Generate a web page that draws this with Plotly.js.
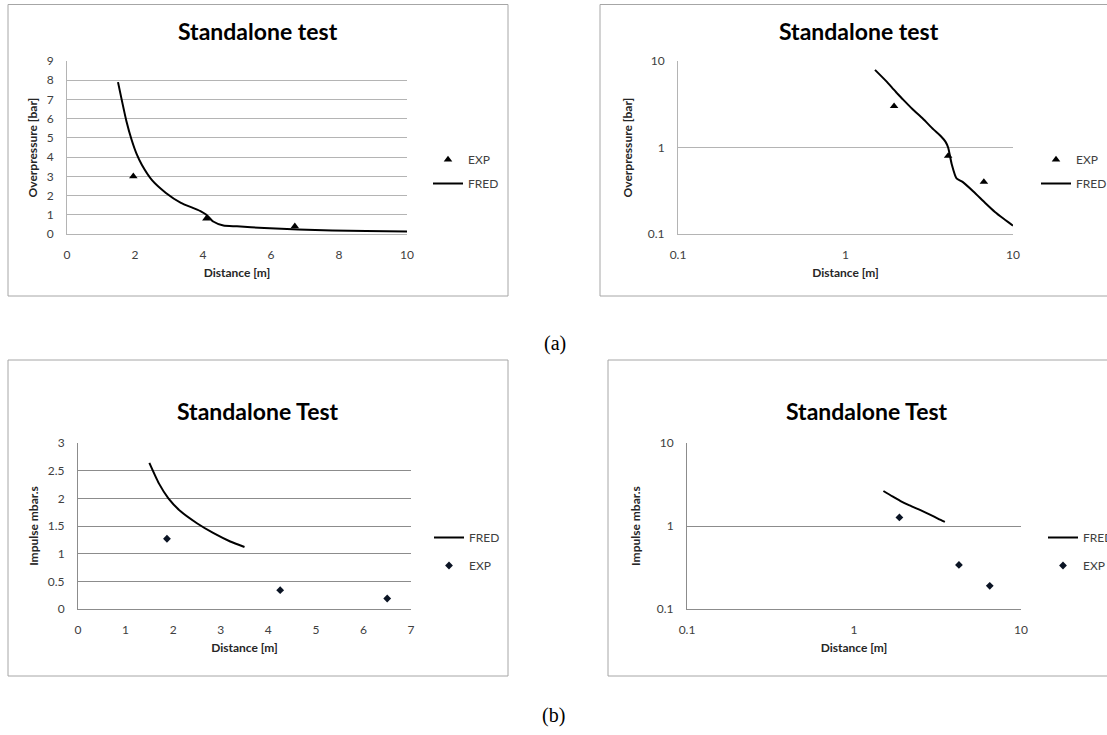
<!DOCTYPE html>
<html><head><meta charset="utf-8">
<script src="https://cdn.plot.ly/plotly-3.0.1.min.js"></script>
<style>html,body{margin:0;padding:0;background:#fff}#chart{width:1107px;height:735px}</style>
</head><body><div id="chart"></div>
<script>
const W = 1107, H = 735;

// (a) Overpressure vs distance
const fredOpDist = [1.5, 1.75, 1.9, 2.05, 2.2, 2.5, 2.9, 3.35, 3.7, 3.95, 4.1, 4.3, 4.6, 5.0, 5.8, 6.8, 7.8, 8.8, 10];
const fredOp     = [7.9, 5.85, 4.9, 4.15, 3.6, 2.8, 2.15, 1.62, 1.36, 1.17, 1.0, 0.65, 0.44, 0.40, 0.31, 0.23, 0.18, 0.15, 0.125];
const expOpDist  = [1.95, 4.1, 6.7];
const expOp      = [3.0, 0.8, 0.4];

// (b) Impulse vs distance
const fredImpDist = [1.5, 1.7, 1.9, 2.15, 2.5, 2.85, 3.2, 3.5];
const fredImp     = [2.64, 2.27, 2.0, 1.77, 1.55, 1.37, 1.22, 1.12];
const expImpDist  = [1.87, 4.25, 6.5];
const expImp      = [1.27, 0.34, 0.19];

const titleA = 'Standalone test', titleB = 'Standalone Test';
const xTitle = 'Distance [m]', yTitleA = 'Overpressure [bar]', yTitleB = 'Impulse mbar.s';
const linTicksA = [0, 2, 4, 6, 8, 10], linTicksAy = [0,1,2,3,4,5,6,7,8,9];
const linTicksB = [0,1,2,3,4,5,6,7], linTicksBy = [0,0.5,1,1.5,2,2.5,3];
const linTicksByText = ['0','0.5','1','1.5','2','2.5','3'];
const logTicks = [0.1, 1, 10], logTicksText = ['0.1','1','10'];

const FONT = 'Lato, "Open Sans", sans-serif';
const px = x => x / W;
const py = y => 1 - y / H;

const lineColor = '#000';
const markColorA = '#000';
const markColorB = '#0b1424';
const lineStyle = {color: lineColor, width: 2, shape: 'spline', smoothing: 0.6};

const data = [
  // A1
  {x: expOpDist, y: expOp, xaxis:'x', yaxis:'y', mode:'markers', name:'EXP', legend:'legend', legendgroup:'a1e',
   marker:{symbol:'triangle-up', size:7.5, color:markColorA}},
  {x: fredOpDist, y: fredOp, xaxis:'x', yaxis:'y', mode:'lines', name:'FRED', legend:'legend', legendgroup:'a1f', line: lineStyle},
  // A2
  {x: expOpDist, y: expOp, xaxis:'x2', yaxis:'y2', mode:'markers', name:'EXP', legend:'legend2', legendgroup:'a2e',
   marker:{symbol:'triangle-up', size:7.5, color:markColorA}},
  {x: fredOpDist, y: fredOp, xaxis:'x2', yaxis:'y2', mode:'lines', name:'FRED', legend:'legend2', legendgroup:'a2f', line: lineStyle},
  // B1
  {x: fredImpDist, y: fredImp, xaxis:'x3', yaxis:'y3', mode:'lines', name:'FRED', legend:'legend3', legendgroup:'b1f', line: lineStyle},
  {x: expImpDist, y: expImp, xaxis:'x3', yaxis:'y3', mode:'markers', name:'EXP', legend:'legend3', legendgroup:'b1e',
   marker:{symbol:'diamond', size:6, color:markColorB}},
  // B2
  {x: fredImpDist, y: fredImp, xaxis:'x4', yaxis:'y4', mode:'lines', name:'FRED', legend:'legend4', legendgroup:'b2f', line: lineStyle},
  {x: expImpDist, y: expImp, xaxis:'x4', yaxis:'y4', mode:'markers', name:'EXP', legend:'legend4', legendgroup:'b2e',
   marker:{symbol:'diamond', size:6, color:markColorB}}
];

const tickFont = {family: FONT, size: 12, color: '#404040'};
const axTitleFont = {family: FONT, size: 12, color: '#262626', weight: 'bold'};

function xAx(domain, anchor, grid, extra) {
  return Object.assign({
    domain: domain, anchor: anchor, showgrid: false, zeroline: false,
    showline: true, linecolor: grid, linewidth: 1, ticks: '',
    tickfont: tickFont, ticklabelstandoff: 10, fixedrange: true,
    title: {text: xTitle, font: axTitleFont, standoff: 7}
  }, extra);
}
function yAx(domain, anchor, title, standoff, grid, extra) {
  return Object.assign({
    domain: domain, anchor: anchor, showgrid: true, gridcolor: grid, gridwidth: 1,
    zeroline: false, showline: true, linecolor: grid, linewidth: 1, ticks: '',
    tickfont: tickFont, ticklabelstandoff: 10, fixedrange: true,
    title: {text: title, font: axTitleFont, standoff: standoff}
  }, extra);
}

const gA = '#b4b4b4', gB = '#8c8c8c';
const yDomA = [py(234), py(61)];
const yDomB = [py(609), py(443)];

function legendAt(x, y, gap) {
  return {x: px(x), y: py(y), xanchor: 'left', yanchor: 'top', bgcolor: 'rgba(0,0,0,0)',
    font: {family: FONT, size: 12, color: '#404040'}, traceorder: 'grouped', tracegroupgap: gap};
}

function title(text, x, y) {
  return {text: '<b>' + text + '</b>', x: px(x), y: py(y), xref: 'paper', yref: 'paper',
    xanchor: 'center', yanchor: 'middle', showarrow: false, font: {family: FONT, size: 23, color: '#000'}};
}
function caption(text, x, y) {
  return {text: text, x: px(x), y: py(y), xref: 'paper', yref: 'paper', xanchor: 'center', yanchor: 'middle',
    showarrow: false, font: {family: '"Liberation Serif", "Times New Roman", serif', size: 20, color: '#000'}};
}

const layout = {
  width: W, height: H, autosize: false,
  margin: {l: 0, r: 0, t: 0, b: 0, autoexpand: false},
  paper_bgcolor: '#fff', plot_bgcolor: 'rgba(0,0,0,0)',
  showlegend: true,
  xaxis: xAx([px(67), px(407)], 'y', gA, {range: [0, 10], tickvals: linTicksA}),
  yaxis: yAx(yDomA, 'x', yTitleA, 6, gA, {range: [0, 9], tickvals: linTicksAy}),
  xaxis2: xAx([px(678), px(1013)], 'y2', gA, {type: 'log', range: [-1, 1], tickvals: logTicks, ticktext: logTicksText}),
  yaxis2: yAx(yDomA, 'x2', yTitleA, 12, gA, {type: 'log', range: [-1, 1], tickvals: logTicks, ticktext: logTicksText}),
  xaxis3: xAx([px(78), px(411)], 'y3', gB, {range: [0, 7], tickvals: linTicksB}),
  yaxis3: yAx(yDomB, 'x3', yTitleB, 6, gB, {range: [0, 3], tickvals: linTicksBy, ticktext: linTicksByText}),
  xaxis4: xAx([px(687), px(1021)], 'y4', gB, {type: 'log', range: [-1, 1], tickvals: logTicks, ticktext: logTicksText}),
  yaxis4: yAx(yDomB, 'x4', yTitleB, 13, gB, {type: 'log', range: [-1, 1], tickvals: logTicks, ticktext: logTicksText}),
  legend: legendAt(428, 145, 5),
  legend2: legendAt(1036, 145, 5),
  legend3: legendAt(429, 523, 9),
  legend4: legendAt(1043, 523, 9),
  annotations: [
    title(titleA, 258, 31), title(titleA, 859, 31), title(titleB, 258, 411), title(titleB, 867, 411),
    caption('(a)', 555, 343), caption('(b)', 553, 715)
  ],
  shapes: [
    {type: 'rect', xref: 'paper', yref: 'paper', x0: px(8), x1: px(508), y0: py(296), y1: py(4.5), line: {color: '#a6a6a6', width: 1}},
    {type: 'rect', xref: 'paper', yref: 'paper', x0: px(600), x1: px(1120), y0: py(296), y1: py(4.5), line: {color: '#a6a6a6', width: 1}},
    {type: 'rect', xref: 'paper', yref: 'paper', x0: px(8), x1: px(508), y0: py(676), y1: py(360), line: {color: '#a6a6a6', width: 1}},
    {type: 'rect', xref: 'paper', yref: 'paper', x0: px(608), x1: px(1120), y0: py(676), y1: py(360), line: {color: '#a6a6a6', width: 1}},
    {type: 'rect', xref: 'paper', yref: 'paper', x0: 0, x1: 1, y0: py(384), y1: py(355), line: {width: 0}, fillcolor: '#fff', layer: 'below'}
  ]
};

Plotly.newPlot('chart', data, layout, {displayModeBar: false, staticPlot: true});
</script>
</body></html>
